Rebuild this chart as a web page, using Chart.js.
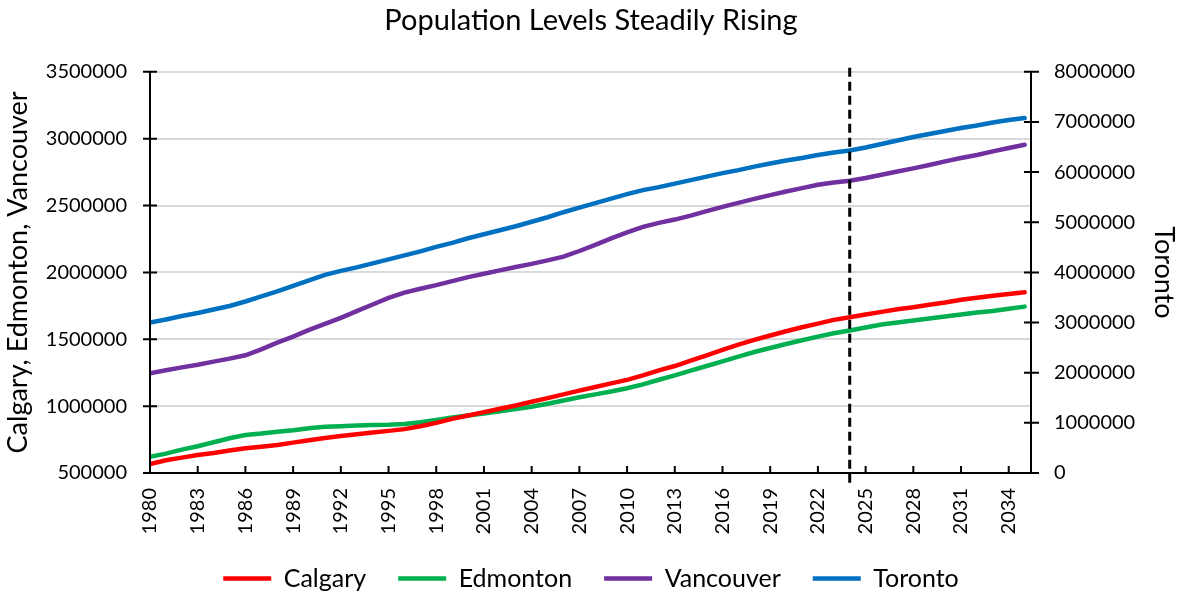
<!DOCTYPE html>
<html><head><meta charset="utf-8">
<script src="https://cdn.jsdelivr.net/npm/chart.js@4/dist/chart.umd.min.js"></script>
<style>html,body{margin:0;padding:0;background:#fff}#wrap{width:1180px;height:593px}</style>
</head><body><div id="wrap"><canvas id="c" width="1180" height="593"></canvas></div>
<script>
const years = [];
for (let y = 1980; y <= 2035; y++) years.push(y);
const calgary = [567000,595000,615000,635000,650000,668000,685000,697000,709000,727000,745000,762000,777000,790000,803000,815000,828000,850000,875000,905000,930000,955000,980000,1005000,1033000,1060000,1088000,1116000,1143000,1170000,1196000,1230000,1268000,1300000,1340000,1380000,1420000,1460000,1495000,1528000,1560000,1590000,1617000,1645000,1665000,1685000,1705000,1725000,1740000,1758000,1775000,1795000,1810000,1825000,1838000,1852000];
const edmonton = [622000,645000,675000,700000,730000,760000,784000,795000,809000,820000,835000,845000,850000,855000,858000,860000,867000,880000,897000,915000,930000,945000,962000,978000,996000,1018000,1042000,1066000,1088000,1110000,1134000,1163000,1197000,1230000,1265000,1300000,1335000,1370000,1405000,1435000,1465000,1493000,1520000,1545000,1565000,1588000,1610000,1625000,1640000,1655000,1670000,1685000,1700000,1712000,1728000,1744000];
const vancouver = [1246000,1268000,1290000,1310000,1333000,1355000,1380000,1425000,1475000,1520000,1570000,1615000,1660000,1710000,1760000,1810000,1849000,1878000,1905000,1935000,1965000,1990000,2015000,2040000,2064000,2090000,2118000,2160000,2206000,2255000,2300000,2340000,2370000,2395000,2425000,2458000,2490000,2520000,2550000,2578000,2605000,2630000,2655000,2672000,2685000,2706000,2730000,2755000,2778000,2803000,2830000,2855000,2878000,2905000,2930000,2954000];
const toronto = [3000000,3060000,3130000,3190000,3260000,3330000,3420000,3520000,3620000,3730000,3840000,3950000,4030000,4100000,4180000,4260000,4340000,4420000,4510000,4590000,4680000,4760000,4840000,4920000,5010000,5100000,5200000,5290000,5380000,5470000,5560000,5640000,5700000,5770000,5840000,5910000,5980000,6040000,6110000,6170000,6230000,6280000,6340000,6390000,6430000,6490000,6560000,6630000,6700000,6760000,6820000,6880000,6930000,6990000,7040000,7080000];
const xTickYears = [1980,1983,1986,1989,1992,1995,1998,2001,2004,2007,2010,2013,2016,2019,2022,2025,2028,2031,2034];
const leftTicks = [500000,1000000,1500000,2000000,2500000,3000000,3500000];
const rightTicks = [0,1000000,2000000,3000000,4000000,5000000,6000000,7000000,8000000];
const forecastYear = 2024;

const FONT = "Lato, 'Liberation Sans', sans-serif";
const pts = arr => years.map((y, i) => ({x: y, y: arr[i]}));

const axisPlugin = {
  id: 'axisPlugin',
  afterDatasetsDraw(chart) {
    const ctx = chart.ctx, a = chart.chartArea;
    const x = chart.scales.x, yl = chart.scales.y, yr = chart.scales.y2;
    ctx.save();
    ctx.strokeStyle = '#000'; ctx.lineWidth = 2;
    ctx.beginPath();
    ctx.moveTo(a.left, a.top); ctx.lineTo(a.left, a.bottom);
    ctx.moveTo(a.right, a.top); ctx.lineTo(a.right, a.bottom);
    ctx.moveTo(a.left, a.bottom); ctx.lineTo(a.right, a.bottom);
    leftTicks.forEach(v => { const p = yl.getPixelForValue(v); ctx.moveTo(a.left - 7, p); ctx.lineTo(a.left + 7, p); });
    rightTicks.forEach(v => { const p = yr.getPixelForValue(v); ctx.moveTo(a.right - 7, p); ctx.lineTo(a.right + 8, p); });
    xTickYears.forEach(v => { const p = x.getPixelForValue(v); ctx.moveTo(p, a.bottom - 7); ctx.lineTo(p, a.bottom); });
    ctx.stroke();
    const fx = x.getPixelForValue(forecastYear);
    ctx.setLineDash([9, 5]); ctx.lineWidth = 3;
    ctx.beginPath(); ctx.moveTo(fx, a.top - 4); ctx.lineTo(fx, a.bottom + 12); ctx.stroke();
    ctx.restore();
  }
};

const ds = (label, arr, color, axis) => ({
  label, data: pts(arr), borderColor: color, backgroundColor: color,
  borderWidth: 4.5, pointRadius: 0, tension: 0, yAxisID: axis, borderCapStyle: 'round'
});

new Chart(document.getElementById('c'), {
  type: 'line',
  data: { datasets: [
    ds('Calgary', calgary, '#FF0000', 'y'),
    ds('Edmonton', edmonton, '#00B050', 'y'),
    ds('Vancouver', vancouver, '#7030A0', 'y'),
    ds('Toronto', toronto, '#0070C0', 'y2')
  ]},
  options: {
    responsive: false, animation: false,
    layout: { padding: { left: 2, right: 0, top: 0, bottom: -8 } },
    plugins: {
      title: { display: true, text: 'Population Levels Steadily Rising', color: '#000',
        font: { family: FONT, size: 29, weight: 'normal' }, padding: { top: 3, bottom: 34 } },
      legend: { position: 'bottom', labels: { color: '#000', font: { family: FONT, size: 25 },
        usePointStyle: true, pointStyle: 'line', pointStyleWidth: 48, padding: 32 } },
      tooltip: { enabled: false }
    },
    scales: {
      x: { type: 'linear', min: 1980, max: 2035.4,
        afterBuildTicks: s => { s.ticks = xTickYears.map(v => ({ value: v })); },
        afterFit: s => { s.height = 61; },
        ticks: { callback: v => String(v), color: '#000', font: { family: FONT, size: 20 }, minRotation: 90, maxRotation: 90, padding: 15 },
        grid: { display: false, drawTicks: false }, border: { display: false } },
      y: { position: 'left', min: 500000, max: 3500000,
        afterBuildTicks: s => { s.ticks = leftTicks.map(v => ({ value: v })); },
        afterFit: s => { s.width = 148; },
        ticks: { callback: v => String(v), color: '#000', font: { family: FONT, size: 20 }, padding: 23 },
        grid: { color: '#d9d9d9', lineWidth: 2, drawTicks: false }, border: { display: false },
        title: { display: true, text: 'Calgary, Edmonton, Vancouver', color: '#000', font: { family: FONT, size: 27 }, padding: { top: 0, bottom: 4 } } },
      y2: { position: 'right', min: 0, max: 8000000,
        afterBuildTicks: s => { s.ticks = rightTicks.map(v => ({ value: v })); },
        afterFit: s => { s.width = 149; },
        ticks: { callback: v => String(v), color: '#000', font: { family: FONT, size: 20 }, padding: 23 },
        grid: { display: false, drawTicks: false }, border: { display: false },
        title: { display: true, text: 'Toronto', color: '#000', font: { family: FONT, size: 27 }, padding: { top: 0, bottom: 0 } } }
    }
  },
  plugins: [axisPlugin]
});
</script></body></html>
